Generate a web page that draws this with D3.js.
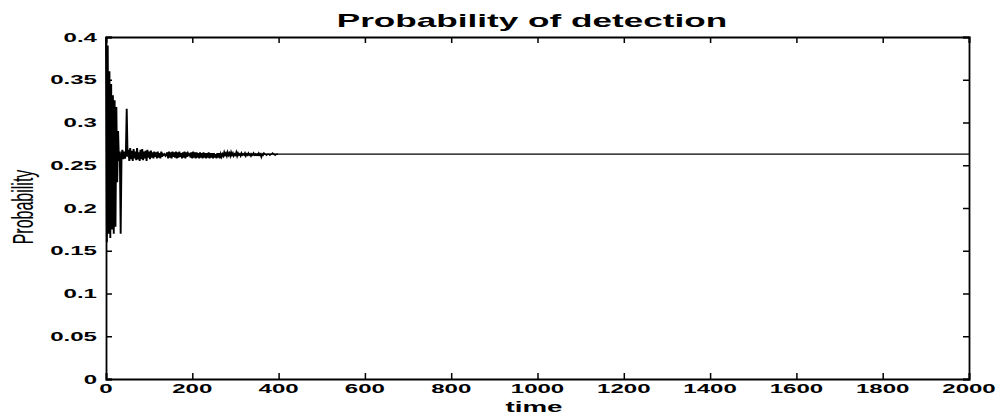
<!DOCTYPE html>
<html>
<head>
<meta charset="utf-8">
<script src="https://cdn.jsdelivr.net/npm/d3@7"></script>
<style>
html,body{margin:0;padding:0;background:#fff;}
svg{display:block;}
</style>
</head>
<body>
<svg id="chart" width="1001" height="417"></svg>
<script>
// ---- data ----
const chartTitle = "Probability of detection";
const xLabel = "time";
const yLabel = "Probability";
const xTicks = [0, 200, 400, 600, 800, 1000, 1200, 1400, 1600, 1800, 2000];
const yTicks = [0, 0.05, 0.1, 0.15, 0.2, 0.25, 0.3, 0.35, 0.4];
const yTickLabels = ["0", "0.05", "0.1", "0.15", "0.2", "0.25", "0.3", "0.35", "0.4"];
// sampled every 2 time units, t = 0 .. 400
const sampleStep = 2;
const probability = [
  0.400,0.160,0.390,0.170,0.360,0.165,0.345,0.175,0.332,0.170,
  0.326,0.178,0.318,0.230,0.290,0.255,0.266,0.170,0.262,0.268,
  0.257,0.266,0.258,0.262,0.316,0.260,0.268,0.255,0.270,0.257,
  0.267,0.255,0.269,0.258,0.266,0.256,0.270,0.257,0.265,0.255,
  0.268,0.257,0.269,0.256,0.266,0.258,0.267,0.255,0.268,0.259,
  0.266,0.257,0.267,0.259,0.265,0.258,0.266,0.260,0.265,0.258,
  0.266,0.259,0.264,0.258,0.266,0.260,0.263,0.262,0.263,0.261,
  0.262,0.265,0.258,0.266,0.259,0.265,0.258,0.266,0.260,0.265,
  0.259,0.266,0.258,0.265,0.259,0.266,0.260,0.264,0.258,0.265,
  0.259,0.266,0.258,0.265,0.260,0.264,0.262,0.263,0.259,0.265,
  0.258,0.266,0.259,0.265,0.258,0.265,0.259,0.264,0.258,0.265,
  0.259,0.264,0.258,0.265,0.259,0.264,0.258,0.264,0.259,0.265,
  0.258,0.264,0.259,0.264,0.258,0.264,0.259,0.263,0.258,0.264,
  0.259,0.264,0.258,0.263,0.260,0.263,0.261,0.265,0.262,0.264,
  0.261,0.265,0.262,0.264,0.261,0.265,0.262,0.264,0.261,0.263,
  0.262,0.265,0.261,0.264,0.262,0.263,0.261,0.264,0.262,0.263,
  0.262,0.264,0.261,0.263,0.262,0.264,0.262,0.263,0.261,0.263,
  0.262,0.264,0.262,0.263,0.262,0.263,0.262,0.264,0.262,0.263,
  0.260,0.263,0.262,0.264,0.263,0.263,0.262,0.263,0.263,0.263,
  0.262,0.263,0.263,0.264,0.263,0.263,0.262,0.263,0.263,0.263,
  0.263
];
const tailTimes = [2000];
const tailValues = [0.263];

// ---- layout ----
const svg = d3.select("#chart");
const L = 106, R = 969, T = 37, B = 379;
const sx = 1.85; // horizontal stretch of the scanned text
const x = d3.scaleLinear().domain([0, 2000]).range([L, R]);
const y = d3.scaleLinear().domain([0, 0.4]).range([B, T]);

const head = probability.map((v, i) => [i * sampleStep, v]);
const tail = [head[head.length - 1]].concat(tailTimes.map((t, i) => [t, tailValues[i]]));

svg.append("rect").attr("x",0).attr("y",0).attr("width",1001).attr("height",417).attr("fill","#fff");

const line = d3.line().x(d => x(d[0])).y(d => y(d[1]));
// data line: noisy transient (heavier) and steady tail (thin)
svg.append("path")
  .datum(head)
  .attr("fill","none")
  .attr("stroke","#000")
  .attr("stroke-width",1.9)
  .attr("d", line);
svg.append("path")
  .datum(tail)
  .attr("fill","none")
  .attr("stroke","#000")
  .attr("stroke-width",1.2)
  .attr("d", line);

// axes (box with inward ticks)
const tk = 6;
svg.append("g").attr("transform",`translate(0,${B})`)
  .call(d3.axisBottom(x).tickValues(xTicks).tickSize(-tk).tickFormat(""));
svg.append("g").attr("transform",`translate(0,${T})`)
  .call(d3.axisTop(x).tickValues(xTicks).tickSize(-tk).tickFormat(""));
svg.append("g").attr("transform",`translate(${L},0)`)
  .call(d3.axisLeft(y).tickValues(yTicks).tickSize(-tk).tickFormat(""));
svg.append("g").attr("transform",`translate(${R},0)`)
  .call(d3.axisRight(y).tickValues(yTicks).tickSize(-tk).tickFormat(""));
svg.selectAll(".domain").attr("stroke","#000").attr("stroke-width",1.8);
svg.selectAll(".tick line").attr("stroke","#000").attr("stroke-width",1.5);

const font = "'Liberation Sans', Arial, Helvetica, sans-serif";

// x tick labels
svg.append("g").selectAll("text").data(xTicks).join("text")
  .attr("transform", d => `translate(${x(d)},393) scale(${sx},1)`)
  .attr("text-anchor","middle")
  .attr("font-family",font).attr("font-weight","bold").attr("font-size",13)
  .text(d => d);

// y tick labels
svg.append("g").selectAll("text").data(yTicks).join("text")
  .attr("transform", d => `translate(97,${y(d)}) scale(${sx},1)`)
  .attr("text-anchor","end")
  .attr("dy","0.36em")
  .attr("font-family",font).attr("font-weight","bold").attr("font-size",13)
  .text((d,i) => yTickLabels[i]);

// title
svg.append("text")
  .attr("transform", `translate(532,27) scale(${sx},1)`)
  .attr("text-anchor","middle")
  .attr("font-family",font).attr("font-weight","bold").attr("font-size",19)
  .text(chartTitle);

// x label
svg.append("text")
  .attr("transform", `translate(534,412) scale(${sx},1)`)
  .attr("text-anchor","middle")
  .attr("font-family",font).attr("font-weight","bold").attr("font-size",15)
  .text(xLabel);

// y label
svg.append("text")
  .attr("transform", `translate(33,207) scale(${sx},1) rotate(-90)`)
  .attr("text-anchor","middle")
  .attr("font-family",font).attr("font-size",16)
  .text(yLabel);
</script>
</body>
</html>
